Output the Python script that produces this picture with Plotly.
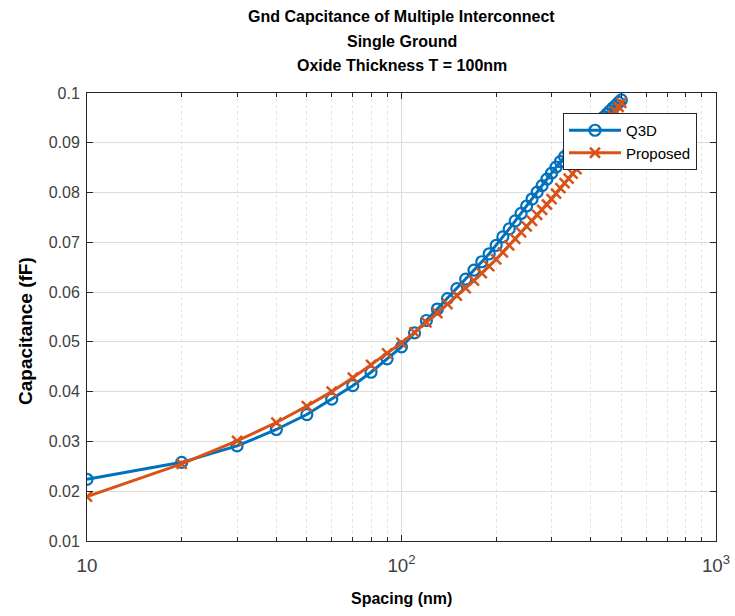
import plotly.graph_objects as go

spacing = [10, 20, 30, 40, 50, 60, 70, 80, 90, 100,
           110, 120, 130, 140, 150, 160, 170, 180, 190, 200,
           210, 220, 230, 240, 250, 260, 270, 280, 290, 300,
           310, 320, 330, 340, 350, 360, 370, 380, 390, 400,
           410, 420, 430, 440, 450, 460, 470, 480, 490, 500]

q3d = [0.0224, 0.0258, 0.0291, 0.0324, 0.0354, 0.0385, 0.0412, 0.0439, 0.0466, 0.0490,
       0.0518, 0.0543, 0.0566, 0.0587, 0.0607, 0.0626, 0.0644, 0.0661, 0.0677, 0.0694,
       0.0711, 0.0727, 0.0743, 0.0758, 0.0773, 0.0787, 0.0801, 0.0814, 0.0827, 0.0839,
       0.0851, 0.0862, 0.0872, 0.0881, 0.0890, 0.0898, 0.0906, 0.0913, 0.0920, 0.0927,
       0.0934, 0.0940, 0.0946, 0.0952, 0.0958, 0.0964, 0.0970, 0.0975, 0.0981, 0.0986]

proposed = [0.0189, 0.0255, 0.0301, 0.0338, 0.0371, 0.0400, 0.0428, 0.0454, 0.0477, 0.0498,
            0.0519, 0.0539, 0.0558, 0.0576, 0.0593, 0.0608, 0.0623, 0.0638, 0.0652, 0.0666,
            0.0680, 0.0694, 0.0707, 0.0720, 0.0732, 0.0743, 0.0755, 0.0765, 0.0776, 0.0787,
            0.0798, 0.0809, 0.0819, 0.0828, 0.0838, 0.0847, 0.0858, 0.0869, 0.0879, 0.0890,
            0.0900, 0.0909, 0.0919, 0.0928, 0.0937, 0.0946, 0.0955, 0.0963, 0.0972, 0.0980]

title_lines = ["Gnd Capcitance of Multiple Interconnect",
               "Single Ground",
               "Oxide Thickness T = 100nm"]
x_title = "Spacing (nm)"
y_title = "Capacitance (fF)"

BLUE = "#0072BD"
ORANGE = "#D95319"
AX = "#262626"
FONT = "Liberation Sans, Arial, sans-serif"

fig = go.Figure()
fig.add_trace(go.Scatter(
    x=spacing, y=q3d, name="Q3D", mode="lines+markers",
    line=dict(color=BLUE, width=3),
    marker=dict(symbol="circle-open", size=11, color=BLUE, line=dict(width=2.2, color=BLUE)),
))
fig.add_trace(go.Scatter(
    x=spacing, y=proposed, name="Proposed", mode="lines+markers",
    line=dict(color=ORANGE, width=3),
    marker=dict(symbol="x-thin-open", size=10, color=ORANGE, line=dict(width=2.5, color=ORANGE)),
))

P_L, P_R, P_T, P_B = 87, 716, 93, 541
W = P_R - P_L
H = P_B - P_T
for txt, py in zip(title_lines, [17, 41.5, 66]):
    fig.add_annotation(
        text="<b>%s</b>" % txt, xref="paper", yref="paper",
        x=0.5, y=(P_B - py) / H, xanchor="center", yanchor="middle",
        showarrow=False, font=dict(family=FONT, size=16, color="#000000"),
    )

fig.add_annotation(
    text="<b>%s</b>" % x_title, xref="paper", yref="paper",
    x=0.5, y=(P_B - 598) / H, xanchor="center", yanchor="middle",
    showarrow=False, font=dict(family=FONT, size=16, color="#000000"),
)
fig.add_annotation(
    text="<b>%s</b>" % y_title, xref="paper", yref="paper",
    x=(25 - P_L) / W, y=(P_B - 331) / H, xanchor="center", yanchor="middle",
    textangle=-90,
    showarrow=False, font=dict(family=FONT, size=19, color="#000000"),
)

fig.update_layout(
    width=735, height=616,
    margin=dict(l=P_L, r=735 - P_R, t=P_T, b=616 - P_B, autoexpand=False),
    paper_bgcolor="white", plot_bgcolor="white",
    font=dict(family=FONT, size=14, color="#404040"),
    showlegend=True,
    legend=dict(
        x=(697 - P_L) / W, y=(P_B - 113) / H, xanchor="right", yanchor="top",
        bgcolor="white", bordercolor=AX, borderwidth=1,
        font=dict(family=FONT, size=15, color="#000000"),
        tracegroupgap=0, itemwidth=52,
    ),
)

fig.update_xaxes(
    type="log", range=[1, 3], dtick=1, exponentformat="power",
    showgrid=True, gridcolor="#dcdcdc", gridwidth=1,
    ticks="inside", ticklen=6, tickcolor=AX,
    showline=True, linecolor=AX, linewidth=1, mirror="ticks",
    zeroline=False, automargin=False, ticklabelstandoff=8,
    minor=dict(ticks="inside", ticklen=4, tickcolor=AX, showgrid=True,
               gridcolor="#e3e3e3", griddash="dot", gridwidth=1),
    tickfont=dict(family=FONT, size=15, color="#404040"),
)
fig.update_yaxes(
    range=[0.01, 0.1], dtick=0.01, tick0=0.01,
    showgrid=True, gridcolor="#dcdcdc", gridwidth=1,
    ticks="inside", ticklen=6, tickcolor=AX,
    showline=True, linecolor=AX, linewidth=1, mirror="ticks",
    zeroline=False, automargin=False, ticklabelstandoff=3,
    tickfont=dict(family=FONT, size=16, color="#404040"),
)

fig.write_html("out.html")
